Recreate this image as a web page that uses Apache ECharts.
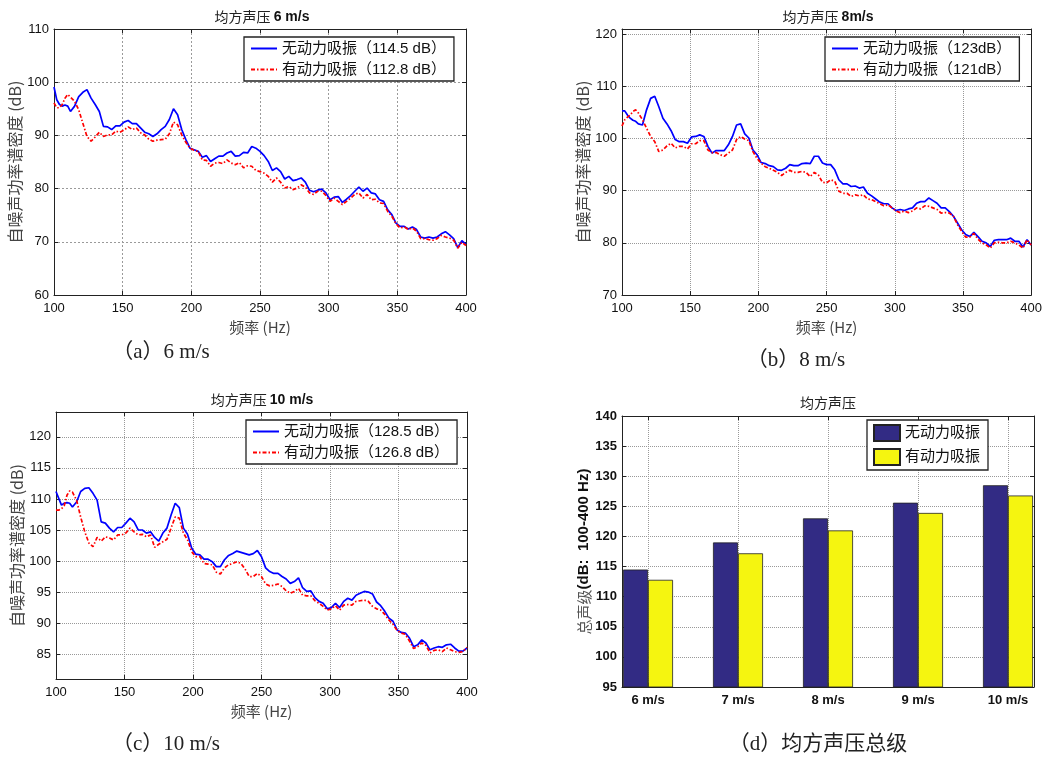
<!DOCTYPE html>
<html><head><meta charset="utf-8">
<script src="https://cdn.jsdelivr.net/npm/echarts@6/dist/echarts.min.js"></script>
<style>html,body{margin:0;padding:0;background:#fff}#c{width:1045px;height:758px}</style>
</head><body><div id="c"></div>
<script>
// ---------- data ----------
const freq = [100,102,104,106,108,110,112,115,118,121,124,127,130,133,136,139,142,145,148,151,154,157,160,163,166,169,172,175,178,181,184,187,190,193,196,199,202,205,208,211,214,217,220,223,226,229,232,235,238,241,244,247,250,253,256,259,262,265,268,271,274,277,280,283,286,289,292,295,298,301,304,307,310,313,316,319,322,325,328,331,334,337,340,343,346,349,352,355,358,361,364,367,370,373,376,379,382,385,388,391,394,397,400];

const a6NoAbs = [99.1,96.7,95.8,95.5,95.7,95.5,94.5,95.5,97.3,98.1,98.6,97.0,95.8,94.5,91.7,91.6,91.1,91.8,91.8,92.5,92.8,92.2,92.2,91.4,90.6,90.3,89.8,90.3,91.1,91.7,93.0,95.0,93.9,91.1,89.2,87.6,87.3,87.0,85.9,86.2,85.1,85.6,86.1,86.1,86.7,87.0,86.1,86.2,86.8,86.7,87.9,87.6,87.0,86.2,85.1,83.4,83.9,83.2,81.8,82.3,81.5,81.7,82.0,81.2,79.7,79.4,79.7,79.9,79.2,77.9,78.4,78.5,77.4,78.0,78.7,79.5,80.3,79.5,80.1,79.2,79.0,77.9,77.6,76.0,75.1,73.5,72.9,72.9,72.4,72.8,72.3,70.9,70.7,70.9,70.7,70.9,71.5,71.9,71.3,70.6,68.9,70.2,69.5];
const a6Abs = [96.1,95.2,95.2,95.8,97.0,97.7,97.2,96.4,94.8,92.3,89.8,88.9,89.7,90.6,89.8,90.1,90.1,90.8,90.6,91.0,91.6,91.1,91.4,90.5,90.1,89.3,88.9,89.1,89.2,89.3,90.3,92.5,92.0,90.1,88.7,87.6,87.2,87.0,85.4,85.3,84.2,84.8,84.9,84.7,85.4,84.8,84.5,84.9,83.9,84.3,84.2,83.4,83.2,82.9,82.3,81.2,82.0,81.2,80.1,80.4,79.8,80.1,80.7,80.3,79.2,78.9,79.5,79.5,78.7,77.6,78.2,77.6,77.0,77.6,78.2,78.9,79.2,78.2,78.9,77.9,78.0,77.3,77.2,75.7,74.8,73.4,72.6,72.8,72.3,72.6,72.0,70.6,70.6,70.4,70.3,70.6,71.2,70.9,70.7,70.3,68.8,69.9,69.3];

const b8NoAbs = [105.3,105.3,104.5,103.9,103.5,103.3,102.8,102.6,105.5,107.7,108.1,106.1,103.9,102.8,101.5,99.8,99.4,99.4,99.1,100.3,100.4,100.7,100.4,98.5,97.2,97.7,97.7,97.7,98.8,100.4,102.6,102.8,100.9,100.1,97.8,96.9,95.4,95.2,94.8,94.6,94.0,93.9,94.3,95.0,94.8,94.8,95.2,95.3,95.2,96.6,96.6,95.3,95.0,95.0,94.0,92.1,91.3,91.3,90.8,90.9,90.5,90.7,89.5,89.0,88.4,87.8,87.5,87.5,86.7,86.2,86.4,86.2,86.5,86.7,87.6,87.9,87.9,88.6,88.1,87.6,86.7,86.7,86.0,85.1,83.8,82.5,81.6,81.2,82.0,81.2,80.3,80.0,79.3,80.5,80.6,80.6,80.6,80.9,80.3,80.3,79.2,80.6,79.6];
const b8Abs = [102.4,103.6,104.1,104.5,105.2,105.5,104.9,103.6,102.0,100.4,99.4,97.5,97.8,98.6,99.1,98.2,98.5,98.5,98.0,99.0,99.0,99.6,99.6,97.8,97.3,97.3,96.9,96.6,97.2,97.8,99.8,100.4,99.9,99.6,97.5,96.2,95.3,94.6,94.3,93.9,93.5,92.9,93.5,93.9,93.5,93.5,93.7,93.5,92.7,93.5,93.0,91.6,91.5,92.1,91.8,89.9,89.5,89.5,88.9,89.2,89.0,89.2,88.4,88.3,87.9,87.5,87.1,87.3,86.7,86.1,85.8,86.1,85.8,86.1,86.7,86.5,87.1,87.0,86.7,86.4,85.7,85.8,85.7,85.1,83.5,82.2,81.1,81.1,81.8,80.7,80.0,79.6,79.0,80.0,80.1,80.0,80.0,80.3,80.0,79.6,79.0,80.6,79.6];

const c10NoAbs = [111.2,110.1,109.0,109.3,109.4,109.3,108.7,109.5,111.2,111.7,111.8,110.9,109.8,106.3,106.1,105.3,104.7,105.4,105.4,106.1,106.9,106.3,105.0,105.0,104.5,104.7,103.8,103.2,104.5,105.3,107.4,109.3,108.6,105.3,104.3,102.1,101.1,101.0,100.3,100.3,99.9,99.1,99.1,100.2,100.9,101.2,101.6,101.4,101.2,101.0,101.2,101.7,100.7,98.9,98.3,98.0,98.0,97.5,97.1,96.4,96.7,97.3,95.7,95.1,95.2,94.1,93.5,93.2,92.3,92.5,93.2,92.5,93.5,94.0,93.7,94.5,94.8,95.1,95.0,94.7,93.4,92.8,91.9,90.8,90.3,88.9,88.5,88.4,87.6,86.2,86.5,87.3,86.8,85.7,86.0,86.2,86.1,86.5,86.6,86.0,85.5,85.5,86.0];
const c10Abs = [108.2,108.2,108.4,108.9,110.6,111.3,111.1,109.8,107.1,104.7,102.9,102.3,103.8,103.2,103.9,103.7,103.4,104.2,104.2,104.5,105.3,104.7,104.2,104.3,103.9,104.2,102.2,102.7,103.1,103.5,105.3,107.1,106.9,104.5,103.4,101.5,100.7,100.7,99.6,99.5,99.4,98.2,97.9,98.9,99.4,99.6,99.9,99.6,98.7,97.5,97.5,98.0,97.5,96.3,96.0,96.1,96.3,95.9,95.2,94.8,95.1,95.6,94.5,94.4,94.4,93.6,93.2,92.7,92.1,92.3,92.8,92.1,92.9,93.0,92.9,93.5,93.6,93.7,93.5,92.7,92.3,92.1,91.4,90.5,89.8,88.8,88.4,88.2,87.1,85.9,86.2,86.8,86.4,85.2,85.6,85.7,85.4,86.0,85.7,85.4,85.3,85.4,86.1];

const barCats = ['6 m/s','7 m/s','8 m/s','9 m/s','10 m/s'];
const barNoAbs = [114.5,119.0,123.0,125.6,128.5];
const barAbs = [112.8,117.2,121.0,123.9,126.8];

const nameNo = '无动力吸振', nameYes = '有动力吸振';
const legA = [nameNo + '（114.5 dB）', nameYes + '（112.8 dB）'];
const legB = [nameNo + '（123dB）', nameYes + '（121dB）'];
const legC = [nameNo + '（128.5 dB）', nameYes + '（126.8 dB）'];

// ---------- styling ----------
const LAT = '"Liberation Sans", Arial, "Noto Sans CJK SC"';
const CJK = '"Noto Sans CJK SC", "Liberation Sans"';
const SERIF = '"Liberation Serif", "DejaVu Serif", "Noto Sans CJK SC"';
const FRAME = {lineStyle: {color: '#222', width: 1}};
const zip = arr => freq.map((f, i) => [f, arr[i]]);
const barPts = arr => arr.map((v, i) => [i + 1, v]);

function lineX(grid, showLbl, pos, gridStyle) {
  return {
    type: 'value', gridIndex: grid, position: pos, min: 100, max: 400, interval: 50,
    axisLine: Object.assign({show: true, onZero: false}, FRAME),
    axisTick: {show: true, inside: true, length: 4, lineStyle: {color: '#222'}},
    axisLabel: {show: showLbl, color: '#111', fontSize: 13, fontFamily: LAT, margin: 7},
    splitLine: {show: showLbl, lineStyle: gridStyle},
    name: showLbl ? '频率 (Hz)' : '', nameLocation: 'middle', nameGap: 25,
    nameTextStyle: {fontSize: 15, color: '#444', fontFamily: CJK}
  };
}
function lineY(grid, showLbl, pos, extra, gridStyle, hideMax) {
  return Object.assign({
    type: 'value', gridIndex: grid, position: pos,
    axisLine: Object.assign({show: true, onZero: false}, FRAME),
    axisTick: {show: true, inside: true, length: 4, lineStyle: {color: '#222'}},
    axisLabel: {show: showLbl, color: '#111', fontSize: 13, fontFamily: LAT, margin: 5, showMaxLabel: !hideMax},
    splitLine: {show: showLbl, lineStyle: gridStyle},
    name: showLbl ? '自噪声功率谱密度 (dB)' : '', nameLocation: 'middle', nameGap: 29, nameRotate: 90,
    nameTextStyle: {fontSize: 16, color: '#444', fontFamily: CJK}
  }, extra);
}
const dashA = {color: '#9a9a9a', type: [2, 2], width: 1};
const dotB = {color: '#999', type: [1, 1], width: 1};

function legend(data, left, top, icon) {
  const l = {
    data: data, orient: 'vertical', left: left, top: top,
    borderColor: '#222', borderWidth: 1.3, backgroundColor: '#fff',
    padding: [4, 8, 4, 6], itemGap: 6, itemWidth: 26, itemHeight: icon ? 16 : 14,
    selectedMode: false,
    textStyle: {fontSize: 15, color: '#111', fontFamily: LAT}
  };
  if (icon) l.icon = icon; else l.itemStyle = {opacity: 0};
  return l;
}
function lineSeries(name, arr, xi, yi, blue) {
  return {
    type: 'line', name: name, data: zip(arr), xAxisIndex: xi, yAxisIndex: yi,
    symbol: 'none', smooth: false, clip: true,
    lineStyle: blue ? {color: '#0000ff', width: 1.7, type: 'solid'} : {color: '#ff0000', width: 1.7, type: [4, 2, 1.5, 2]},
    itemStyle: {color: blue ? '#0000ff' : '#ff0000'}
  };
}
function text(x, y, t, rich) {
  return {type: 'text', x: x, y: y, silent: true,
    style: {text: t, align: 'center', verticalAlign: 'middle', rich: rich}};
}
const titleRich = {
  n: {fontSize: 14, fontFamily: CJK, fill: '#222'},
  b: {fontSize: 14, fontFamily: LAT, fontWeight: 'bold', fill: '#111'}
};
const capRich = {c: {fontSize: 21, fontFamily: SERIF, fill: '#222'}};

const option = {
  animation: false,
  backgroundColor: '#fff',
  grid: [
    {left: 54, top: 29, width: 412, height: 266},
    {left: 622, top: 29, width: 411, height: 266},
    {left: 56, top: 412, width: 411, height: 267},
    {left: 622, top: 416, width: 412, height: 271},
    {left: 648, top: 416, width: 360, height: 271}
  ],
  xAxis: [
    lineX(0, true, 'bottom', dashA), lineX(0, false, 'top', dashA),
    lineX(1, true, 'bottom', dotB), lineX(1, false, 'top', dotB),
    lineX(2, true, 'bottom', dotB), lineX(2, false, 'top', dotB),
    {type: 'value', gridIndex: 3, position: 'bottom', min: 0.71111, max: 5.28889,
      axisLine: Object.assign({show: true, onZero: false}, FRAME), axisTick: {show: false}, axisLabel: {show: false}, splitLine: {show: false}},
    {type: 'value', gridIndex: 3, position: 'top', min: 0.71111, max: 5.28889,
      axisLine: Object.assign({show: true, onZero: false}, FRAME), axisTick: {show: false}, axisLabel: {show: false}, splitLine: {show: false}},
    {type: 'category', gridIndex: 4, position: 'bottom', data: barCats, boundaryGap: false,
      axisLine: {show: false}, axisTick: {show: true, inside: true, length: 4, lineStyle: {color: '#222'}},
      axisLabel: {color: '#111', fontSize: 13, fontWeight: 'bold', fontFamily: LAT, margin: 7},
      splitLine: {show: true, lineStyle: dotB}},
    {type: 'category', gridIndex: 4, position: 'top', data: barCats, boundaryGap: false,
      axisLine: {show: false}, axisTick: {show: true, inside: true, length: 4, lineStyle: {color: '#222'}},
      axisLabel: {show: false}, splitLine: {show: false}}
  ],
  yAxis: [
    lineY(0, true, 'left', {min: 60, max: 110, interval: 10}, dashA),
    lineY(0, false, 'right', {min: 60, max: 110, interval: 10}, dashA),
    lineY(1, true, 'left', {min: 70, max: 121, interval: 10}, dotB, true),
    lineY(1, false, 'right', {min: 70, max: 121, interval: 10}, dotB, true),
    lineY(2, true, 'left', {min: 81, max: 124, splitNumber: 8,
      axisLabel: {color: '#111', fontSize: 13, fontFamily: LAT, margin: 5, showMinLabel: false, showMaxLabel: false}}, dotB),
    lineY(2, false, 'right', {min: 81, max: 124, splitNumber: 8}, dotB),
    {type: 'value', gridIndex: 3, position: 'left', min: 95, max: 140, interval: 5,
      axisLine: Object.assign({show: true, onZero: false}, FRAME),
      axisTick: {show: true, inside: true, length: 4, lineStyle: {color: '#222'}},
      axisLabel: {color: '#111', fontSize: 13, fontWeight: 'bold', fontFamily: LAT, margin: 5},
      splitLine: {show: true, lineStyle: dotB},
      name: '{n|总声级}{b|(dB:  100-400 Hz)}', nameLocation: 'middle', nameGap: 29, nameRotate: 90,
      nameTextStyle: {rich: {
        n: {fontSize: 15, color: '#555', fontFamily: CJK},
        b: {fontSize: 15, color: '#111', fontWeight: 'bold', fontFamily: LAT}}}},
    {type: 'value', gridIndex: 3, position: 'right', min: 95, max: 140, interval: 5,
      axisLine: Object.assign({show: true, onZero: false}, FRAME),
      axisTick: {show: true, inside: true, length: 4, lineStyle: {color: '#222'}},
      axisLabel: {show: false}, splitLine: {show: false}},
    {type: 'value', gridIndex: 4, min: 95, max: 140, show: false}
  ],
  legend: [
    legend(legA, 244, 37),
    legend(legB, 825, 37),
    legend(legC, 246, 420),
    legend([nameNo, nameYes], 867, 420, 'rect')
  ],
  series: [
    lineSeries(legA[0], a6NoAbs, 0, 0, true),
    lineSeries(legA[1], a6Abs, 0, 0, false),
    lineSeries(legB[0], b8NoAbs, 2, 2, true),
    lineSeries(legB[1], b8Abs, 2, 2, false),
    lineSeries(legC[0], c10NoAbs, 4, 4, true),
    lineSeries(legC[1], c10Abs, 4, 4, false),
    {type: 'bar', name: nameNo, data: barPts(barNoAbs), xAxisIndex: 6, yAxisIndex: 6, barWidth: 25, barGap: '0%', clip: true,
      itemStyle: {color: '#322b84', borderColor: '#222', borderWidth: 0.8}},
    {type: 'bar', name: nameYes, data: barPts(barAbs), xAxisIndex: 6, yAxisIndex: 6, barWidth: 25, barGap: '0%', clip: true,
      itemStyle: {color: '#f5f510', borderColor: '#222', borderWidth: 0.8}}
  ],
  graphic: [
    text(262, 17, '{n|均方声压 }{b|6 m/s}', titleRich),
    text(828, 17, '{n|均方声压 }{b|8m/s}', titleRich),
    text(262, 400, '{n|均方声压 }{b|10 m/s}', titleRich),
    text(828, 403, '{n|均方声压}', titleRich),
    text(161, 352, '{c|（a）6 m/s}', capRich),
    text(796, 360, '{c|（b）8 m/s}', capRich),
    text(166, 744, '{c|（c）10 m/s}', capRich),
    text(818, 744, '{c|（d）均方声压总级}', capRich)
  ]
};
echarts.init(document.getElementById('c')).setOption(option);
</script>
</body></html>
